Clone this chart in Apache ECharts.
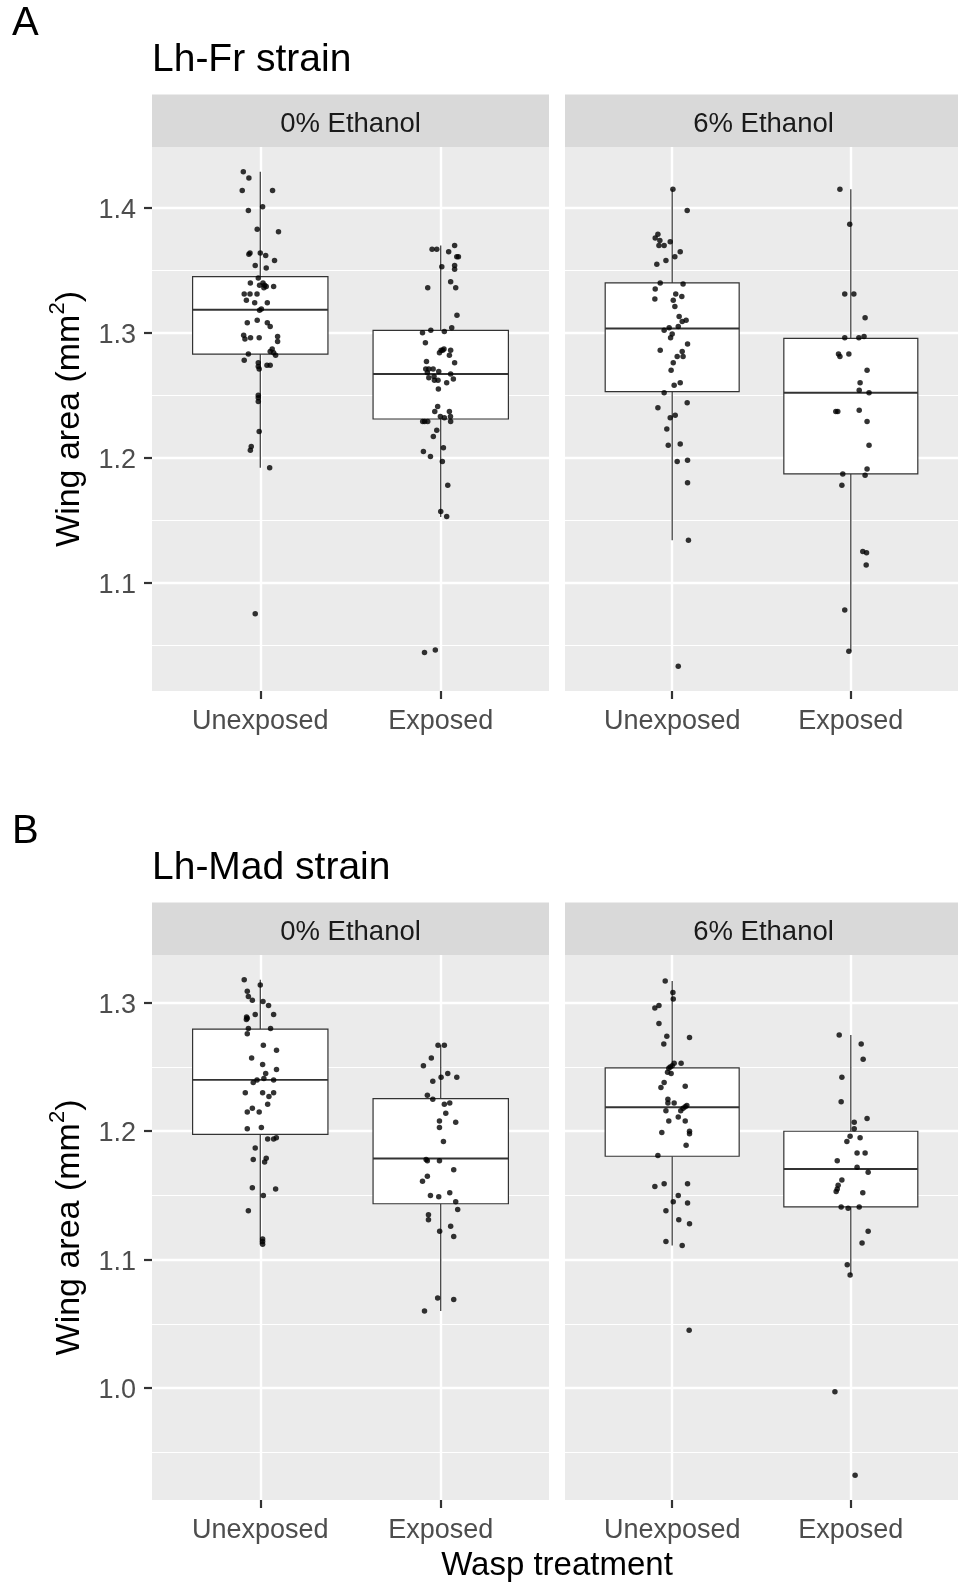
<!DOCTYPE html>
<html><head><meta charset="utf-8">
<script src="https://cdn.jsdelivr.net/npm/echarts@6/dist/echarts.min.js"></script>
<style>html,body{margin:0;padding:0;background:#fff}#c{width:958px;height:1584px}</style>
</head><body><div id="c"></div>
<script>
// ---------- data ----------
const strains = ['Lh-Fr strain', 'Lh-Mad strain'];
const tags = ['A', 'B'];
const facets = ['0% Ethanol', '6% Ethanol'];
const treatments = ['Unexposed', 'Exposed'];
const xAxisTitle = 'Wasp treatment';
const yTicksFr = [1.1, 1.2, 1.3, 1.4];
const yMinorFr = [1.05, 1.15, 1.25, 1.35];
const yTicksMad = [1.0, 1.1, 1.2, 1.3];
const yMinorMad = [0.95, 1.05, 1.15, 1.25];

// box stats: [lower whisker, Q1, median, Q3, upper whisker]
const boxFr0U = [1.192, 1.283, 1.3185, 1.345, 1.429];
const boxFr0E = [1.1525, 1.231, 1.267, 1.302, 1.370];
const boxFr6U = [1.134, 1.253, 1.3035, 1.340, 1.415];
const boxFr6E = [1.045, 1.187, 1.252, 1.2955, 1.415];
const boxMad0U = [1.112, 1.1975, 1.240, 1.2795, 1.318];
const boxMad0E = [1.060, 1.1435, 1.1787, 1.2254, 1.267];
const boxMad6U = [1.111, 1.1805, 1.2187, 1.2493, 1.317];
const boxMad6E = [1.088, 1.141, 1.1706, 1.200, 1.275];

// individual wing areas and their horizontal jitter (category units)
const valFr0U = [1.429,1.424,1.414,1.414,1.401,1.398,1.383,1.381,1.364,1.363,1.364,1.362,1.358,1.354,1.352,1.344,1.340,1.338,1.340,1.338,1.336,1.337,1.337,1.331,1.331,1.331,1.326,1.324,1.324,1.319,1.318,1.308,1.310,1.308,1.305,1.298,1.295,1.296,1.296,1.297,1.293,1.287,1.285,1.284,1.282,1.283,1.278,1.276,1.273,1.271,1.274,1.274,1.250,1.248,1.245,1.221,1.209,1.206,1.192,1.075];
const jitFr0U = [-0.094,-0.063,-0.100,0.068,0.013,-0.066,-0.017,0.101,-0.057,-0.063,0.000,0.030,0.079,-0.028,0.033,-0.011,-0.055,-0.004,0.015,0.024,0.020,0.033,0.074,-0.089,-0.057,-0.018,-0.077,-0.031,0.039,0.006,-0.004,-0.072,-0.017,0.039,0.055,-0.092,-0.085,-0.054,-0.006,0.096,0.096,0.066,0.055,0.074,0.085,-0.066,-0.089,-0.011,-0.011,-0.006,0.037,0.055,-0.011,-0.011,-0.011,-0.006,-0.050,-0.055,0.052,-0.028];
const valFr0E = [1.367,1.367,1.370,1.365,1.361,1.361,1.353,1.354,1.351,1.341,1.336,1.336,1.314,1.300,1.302,1.301,1.304,1.292,1.286,1.286,1.287,1.284,1.286,1.282,1.277,1.276,1.271,1.271,1.271,1.268,1.269,1.265,1.264,1.262,1.262,1.267,1.263,1.260,1.255,1.241,1.237,1.237,1.233,1.232,1.233,1.229,1.229,1.229,1.229,1.222,1.217,1.205,1.201,1.208,1.197,1.178,1.157,1.153,1.044,1.046];
const jitFr0E = [-0.048,-0.022,0.077,0.044,0.089,0.098,0.006,0.077,0.077,0.055,-0.072,0.083,0.090,-0.101,-0.055,0.020,0.061,-0.085,0.002,0.011,0.018,-0.007,0.055,0.048,-0.079,0.077,-0.083,-0.066,-0.042,-0.074,-0.011,-0.037,-0.066,-0.035,-0.015,0.055,0.070,0.033,-0.013,-0.017,-0.033,0.048,-0.002,0.020,0.054,0.055,-0.100,-0.089,-0.072,-0.022,-0.041,-0.096,-0.057,0.015,0.009,0.039,0.000,0.033,-0.090,-0.030];
const valFr6U = [1.415,1.398,1.379,1.376,1.374,1.370,1.370,1.373,1.365,1.361,1.358,1.355,1.340,1.339,1.335,1.331,1.329,1.327,1.326,1.321,1.313,1.310,1.309,1.305,1.304,1.302,1.299,1.296,1.291,1.286,1.285,1.281,1.281,1.276,1.270,1.260,1.258,1.252,1.240,1.244,1.234,1.232,1.223,1.210,1.211,1.197,1.198,1.180,1.134,1.033];
const jitFr6U = [0.004,0.084,-0.080,-0.095,-0.069,-0.074,-0.045,-0.011,0.045,0.015,-0.035,-0.086,-0.067,0.061,-0.095,0.020,0.054,-0.097,0.006,0.015,0.039,0.078,0.056,0.034,-0.017,-0.045,0.000,-0.009,0.086,-0.067,0.056,0.061,0.028,0.006,-0.006,0.045,0.011,-0.045,-0.080,0.084,0.017,-0.011,-0.030,-0.022,0.045,0.028,0.086,0.086,0.091,0.034];
const valFr6E = [1.415,1.387,1.331,1.331,1.312,1.296,1.296,1.297,1.283,1.281,1.283,1.270,1.260,1.254,1.252,1.237,1.237,1.238,1.229,1.210,1.191,1.187,1.186,1.178,1.125,1.124,1.114,1.078,1.045];
const jitFr6E = [-0.061,-0.006,-0.034,0.017,0.080,-0.034,0.045,0.074,-0.069,-0.061,-0.011,0.091,0.052,0.047,0.102,-0.084,-0.073,0.047,0.091,0.102,0.091,-0.045,0.080,-0.050,0.067,0.088,0.086,-0.034,-0.011];
const valMad0U = [1.318,1.314,1.309,1.305,1.302,1.301,1.298,1.291,1.291,1.289,1.288,1.287,1.280,1.280,1.276,1.267,1.263,1.257,1.252,1.248,1.245,1.240,1.238,1.241,1.240,1.230,1.230,1.227,1.230,1.221,1.218,1.215,1.215,1.202,1.203,1.194,1.194,1.195,1.187,1.178,1.179,1.176,1.156,1.155,1.150,1.138,1.116,1.114,1.112];
const jitMad0U = [-0.089,0.000,-0.072,-0.066,-0.044,0.015,0.046,0.074,-0.028,-0.076,-0.072,-0.077,-0.066,0.057,-0.072,0.017,0.090,-0.048,0.013,0.090,0.030,-0.018,-0.039,0.020,0.074,-0.083,0.013,0.048,0.074,0.041,-0.044,-0.072,-0.006,-0.072,0.006,0.041,0.074,0.089,-0.028,-0.039,0.033,0.024,-0.044,0.085,0.017,-0.066,0.013,0.013,0.013];
const valMad0E = [1.267,1.267,1.257,1.251,1.242,1.245,1.242,1.239,1.228,1.225,1.221,1.222,1.214,1.208,1.207,1.203,1.192,1.178,1.177,1.177,1.170,1.165,1.161,1.150,1.149,1.152,1.145,1.139,1.135,1.131,1.126,1.122,1.118,1.070,1.069,1.060];
const jitMad0E = [-0.015,0.020,-0.052,-0.096,0.002,0.039,0.089,-0.044,-0.074,-0.044,0.020,0.050,0.028,-0.007,0.083,-0.007,0.015,-0.081,-0.074,-0.007,0.072,-0.074,-0.101,-0.057,-0.011,0.050,0.083,0.094,-0.068,-0.068,0.055,-0.006,0.072,-0.017,0.072,-0.090];
const valMad6U = [1.317,1.308,1.303,1.296,1.298,1.284,1.274,1.273,1.268,1.253,1.253,1.251,1.250,1.249,1.246,1.245,1.238,1.234,1.235,1.225,1.222,1.222,1.220,1.219,1.218,1.216,1.216,1.211,1.208,1.208,1.199,1.200,1.198,1.189,1.181,1.157,1.159,1.159,1.150,1.145,1.144,1.138,1.131,1.128,1.114,1.111,1.045];
const jitMad6U = [-0.039,0.004,0.006,-0.097,-0.074,-0.074,-0.030,0.097,-0.047,0.050,0.011,0.000,-0.011,-0.019,-0.026,-0.006,-0.045,-0.063,0.073,-0.024,-0.024,0.011,0.082,0.073,0.061,0.048,-0.035,0.034,-0.019,0.073,-0.058,0.097,0.097,0.078,-0.080,-0.097,-0.045,0.086,0.034,0.006,0.086,-0.035,0.037,0.097,-0.035,0.056,0.095];
const valMad6E = [1.275,1.268,1.256,1.242,1.223,1.210,1.207,1.202,1.196,1.195,1.192,1.183,1.183,1.177,1.172,1.168,1.162,1.158,1.155,1.153,1.152,1.141,1.140,1.141,1.122,1.113,1.096,1.088,0.997,0.932];
const jitMad6E = [-0.065,0.058,0.069,-0.050,-0.054,0.091,0.019,0.019,-0.004,0.052,-0.022,0.035,0.080,-0.076,0.035,0.097,-0.050,-0.071,-0.076,-0.082,0.067,-0.054,-0.015,0.047,0.097,0.063,-0.020,-0.004,-0.089,0.024];

// ---------- layout ----------
const FONT = '"Liberation Sans", Arial, sans-serif';
const PANEL_W = 397;
const PANEL_LEFT = [152, 565];
const ROW_TOP = [147, 955];
const ROW_H = [544, 545];
const STRIP_H = 52.5;
const ROW_OFFSET = 808;
const BOX_HALF = 0.375;

const rows = [
  {ticks: yTicksFr, minor: yMinorFr, panels: [
    [[valFr0U, jitFr0U, boxFr0U], [valFr0E, jitFr0E, boxFr0E]],
    [[valFr6U, jitFr6U, boxFr6U], [valFr6E, jitFr6E, boxFr6E]]]},
  {ticks: yTicksMad, minor: yMinorMad, panels: [
    [[valMad0U, jitMad0U, boxMad0U], [valMad0E, jitMad0E, boxMad0E]],
    [[valMad6U, jitMad6U, boxMad6U], [valMad6E, jitMad6E, boxMad6E]]]}
];

function renderBox(params, api) {
  const x = api.value(0);
  const lo = api.coord([x, api.value(1)]);
  const q1 = api.coord([x, api.value(2)]);
  const md = api.coord([x, api.value(3)]);
  const q3 = api.coord([x, api.value(4)]);
  const hi = api.coord([x, api.value(5)]);
  const l = api.coord([x - BOX_HALF, api.value(3)])[0];
  const r = api.coord([x + BOX_HALF, api.value(3)])[0];
  const ls = {stroke: '#333333', lineWidth: 1.2};
  return {type: 'group', children: [
    {type: 'line', shape: {x1: hi[0], y1: hi[1], x2: q3[0], y2: q3[1]}, style: ls},
    {type: 'line', shape: {x1: q1[0], y1: q1[1], x2: lo[0], y2: lo[1]}, style: ls},
    {type: 'rect', shape: {x: l, y: q3[1], width: r - l, height: q1[1] - q3[1]},
      style: {fill: '#ffffff', stroke: '#333333', lineWidth: 1.2}},
    {type: 'line', shape: {x1: l, y1: md[1], x2: r, y2: md[1]}, style: {stroke: '#333333', lineWidth: 1.9}}
  ]};
}

const grid = [], xAxis = [], yAxis = [], series = [], graphic = [];
rows.forEach((row, ri) => {
  let all = [];
  row.panels.forEach(p => p.forEach(g => { all = all.concat(g[0]); }));
  const lo = Math.min(...all), hi = Math.max(...all);
  const pad = (hi - lo) * 0.05;
  const yMin = lo - pad, yMax = hi + pad;

  row.panels.forEach((panel, fi) => {
    const gi = grid.length;
    const left = PANEL_LEFT[fi], top = ROW_TOP[ri];
    grid.push({left: left, top: top, width: PANEL_W, height: ROW_H[ri], show: true,
      backgroundColor: '#EBEBEB', borderWidth: 0, containLabel: false});
    xAxis.push({gridIndex: gi, type: 'value', min: 0.4, max: 2.6,
      axisLine: {show: false},
      axisTick: {show: true, length: 8, customValues: [1, 2], lineStyle: {color: '#333333', width: 2.2}},
      axisLabel: {show: true, customValues: [1, 2], formatter: v => treatments[Math.round(v) - 1],
        fontSize: 27, color: '#4D4D4D', fontFamily: FONT, margin: 17},
      splitLine: {show: true, lineStyle: {color: '#ffffff', width: 2.4}}});
    const isLeft = fi === 0;
    yAxis.push({gridIndex: gi, type: 'value', min: yMin, max: yMax,
      axisLine: {show: false},
      axisTick: {show: isLeft, length: 8, customValues: row.ticks, lineStyle: {color: '#333333', width: 2.2}},
      axisLabel: {show: isLeft, customValues: row.ticks, formatter: v => '{t|' + v.toFixed(1) + '}',
        fontSize: 27, color: '#4D4D4D', fontFamily: FONT, margin: 16,
        rich: {t: {fontSize: 27, color: '#4D4D4D', fontFamily: FONT, padding: [5, 0, 0, 0]}}},
      splitLine: {show: true, lineStyle: {color: '#ffffff', width: 2.4}}});
    yAxis.push({gridIndex: gi, type: 'value', min: yMin, max: yMax,
      axisLine: {show: false},
      axisTick: {show: false, customValues: row.minor},
      axisLabel: {show: false},
      splitLine: {show: true, lineStyle: {color: '#ffffff', width: 1.2}}});
    const yi = yAxis.length - 2;
    series.push({type: 'custom', xAxisIndex: gi, yAxisIndex: yi, z: 2, silent: true,
      renderItem: renderBox, encode: {x: 0, y: [1, 2, 3, 4, 5]},
      data: panel.map((g, ti) => [ti + 1].concat(g[2]))});
    const pts = [];
    panel.forEach((g, ti) => g[0].forEach((v, k) => pts.push([ti + 1 + g[1][k], v])));
    series.push({type: 'scatter', xAxisIndex: gi, yAxisIndex: yi, z: 3, silent: true,
      symbol: 'circle', symbolSize: 5.5, itemStyle: {color: '#000000'}, data: pts});

    // facet strip
    graphic.push({type: 'rect', left: left, top: top - STRIP_H,
      shape: {width: PANEL_W, height: STRIP_H}, style: {fill: '#D9D9D9'}, silent: true});
    graphic.push({type: 'text', x: left + PANEL_W / 2, y: top - STRIP_H / 2 + 4,
      style: {text: facets[fi], fontSize: 27.5, fontFamily: FONT, fill: '#1A1A1A', align: 'center', verticalAlign: 'middle'}});
  });

  const off = ri * ROW_OFFSET;
  graphic.push({type: 'text', x: 12, y: 23.5 + off,
    style: {text: tags[ri], fontSize: 40, fontFamily: FONT, fill: '#000', align: 'left', verticalAlign: 'middle'}});
  graphic.push({type: 'text', x: 152, y: 60 + off,
    style: {text: strains[ri], fontSize: 39, fontFamily: FONT, fill: '#000', align: 'left', verticalAlign: 'middle'}});
  graphic.push({type: 'text', x: 67, y: ROW_TOP[ri] + ROW_H[ri] / 2, rotation: Math.PI / 2,
    style: {text: '{a|Wing area (mm}{s|2}{a|)}', align: 'center', verticalAlign: 'middle',
      rich: {
        a: {fontSize: 34, fontFamily: FONT, fill: '#000', lineHeight: 40, verticalAlign: 'bottom'},
        s: {fontSize: 22, fontFamily: FONT, fill: '#000', lineHeight: 22, verticalAlign: 'top'}
      }}});
});
graphic.push({type: 'text', x: 557, y: 1566,
  style: {text: xAxisTitle, fontSize: 33, fontFamily: FONT, fill: '#000', align: 'center', verticalAlign: 'middle'}});

const chart = echarts.init(document.getElementById('c'), null, {renderer: 'canvas'});
chart.setOption({animation: false, backgroundColor: '#ffffff', grid, xAxis, yAxis, series, graphic});
</script></body></html>
